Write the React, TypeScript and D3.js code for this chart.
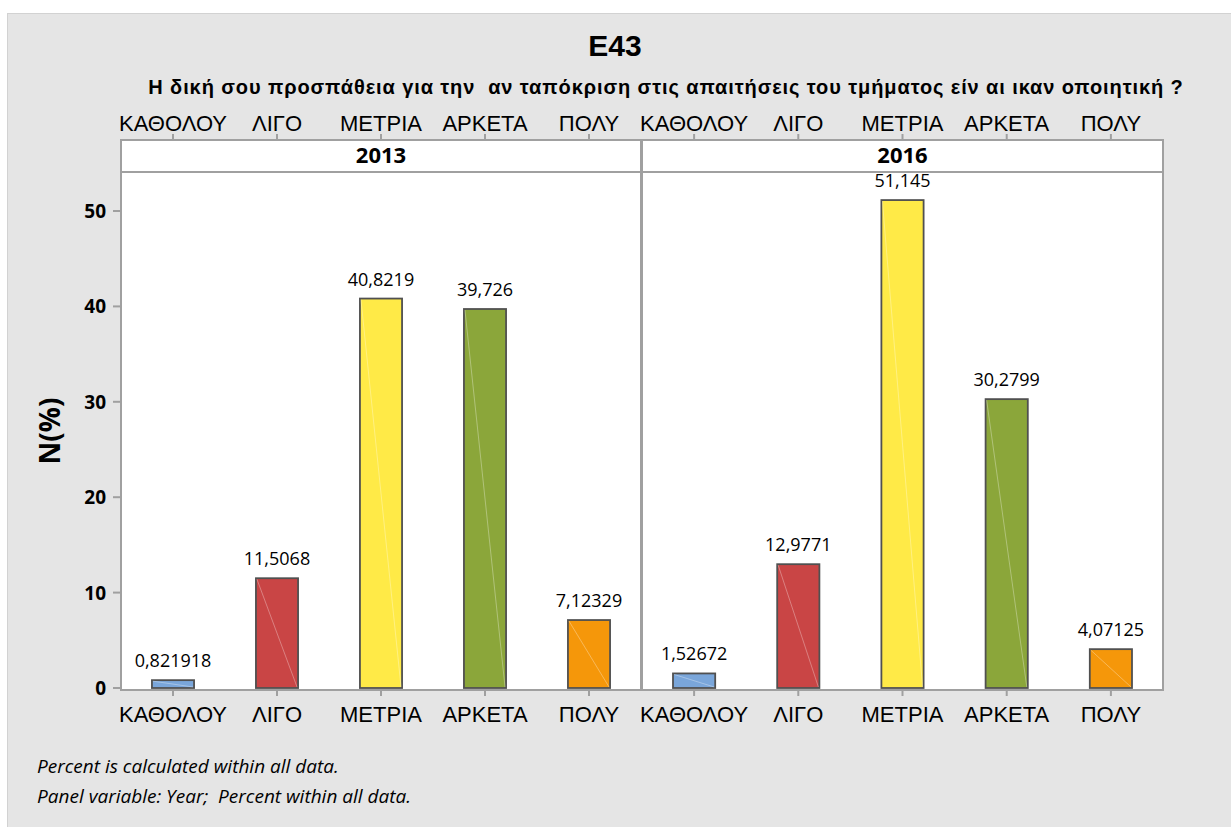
import React from 'react';
import * as d3 from 'd3';

// --- data ---
const categories = ['ΚΑΘΟΛΟΥ', 'ΛΙΓΟ', 'ΜΕΤΡΙΑ', 'ΑΡΚΕΤΑ', 'ΠΟΛΥ'];
const years = ['2013', '2016'];
const values2013 = [0.821918, 11.5068, 40.8219, 39.726, 7.12329];
const values2016 = [1.52672, 12.9771, 51.145, 30.2799, 4.07125];
const barColors = ['#7aa6da', '#c94545', '#ffea47', '#8ba63a', '#f5970a'];
const yTicks = [0, 10, 20, 30, 40, 50];
const title = 'E43';
const subtitle =
  'Η δική σου προσπάθεια για την  αν ταπόκριση στις απαιτήσεις του τμήματος είν αι ικαν οποιητική ?';
const yLabel = 'N(%)';
const footnotes = [
  'Percent is calculated within all data.',
  'Panel variable: Year;  Percent within all data.',
];

const W = 1231;
const H = 827;
const ARIAL = '"Liberation Sans", Arial, sans-serif';
const SEGOE = '"Open Sans", "Noto Sans", sans-serif';
const FRAME = '#a0a0a0';

const stripTop = 140;
const plotTop = 172;
const plotBottom = 690;
const panelX: [number, number][] = [
  [121, 641],
  [642, 1163],
];

const fmt = (v: number) => String(v).replace('.', ',');

const App: React.FC = () => {
  const y = d3.scaleLinear().domain([0, 50]).range([688, 211]);
  const seriesByYear = [values2013, values2016];

  return (
    <div style={{ position: 'absolute', left: 0, top: 0 }}>
      <svg width={W} height={H} style={{ display: 'block' }}>
        <rect x={0} y={0} width={W} height={H} fill="#fff" />
        <rect x={7.5} y={13.5} width={W} height={H} fill="#e5e5e5" stroke="#d2d2d2" />

        <text x={615} y={56} textAnchor="middle" fontFamily={ARIAL} fontWeight="bold" fontSize={30} fill="#000">
          {title}
        </text>
        <text
          x={666}
          y={94}
          textAnchor="middle"
          fontFamily={ARIAL}
          fontWeight="bold"
          fontSize={20}
          letterSpacing={0.9}
          fill="#000"
          style={{ whiteSpace: 'pre' }}
        >
          {subtitle}
        </text>

        {years.map((yr, pi) => {
          const [x0, x1] = panelX[pi];
          const band = d3
            .scaleBand<string>()
            .domain(categories)
            .range([x0, x1])
            .paddingInner(0.595)
            .paddingOuter(0.2975);
          const vals = seriesByYear[pi];
          return (
            <g key={yr}>
              {/* plot area */}
              <rect x={x0} y={plotTop} width={x1 - x0} height={plotBottom - plotTop} fill="#fff" stroke={FRAME} strokeWidth={2} />
              {/* strip */}
              <rect x={x0} y={stripTop} width={x1 - x0} height={plotTop - stripTop} fill="#fff" stroke={FRAME} strokeWidth={2} />
              <text
                x={(x0 + x1) / 2}
                y={163}
                textAnchor="middle"
                fontFamily={SEGOE}
                fontWeight="bold"
                fontSize={22}
                fill="#000"
              >
                {yr}
              </text>

              {categories.map((c, i) => {
                const bx = band(c)!;
                const bw = band.bandwidth();
                const cx = bx + bw / 2;
                const top = y(vals[i]);
                const bottom = y(0);
                return (
                  <g key={c}>
                    <rect x={bx} y={top} width={bw} height={bottom - top} fill={barColors[i]} stroke="#505050" strokeWidth={1.8} />
                    <line x1={bx + 1} y1={top + 1} x2={bx + bw - 1} y2={bottom - 1} stroke="#fff" strokeOpacity={0.4} strokeWidth={0.8} />
                    <text x={cx} y={top - 13} textAnchor="middle" fontFamily={SEGOE} fontSize={18} fill="#000">
                      {fmt(vals[i])}
                    </text>
                    {/* top axis */}
                    <line x1={cx} x2={cx} y1={134} y2={stripTop} stroke={FRAME} strokeWidth={2} />
                    <text x={cx} y={131} textAnchor="middle" fontFamily={ARIAL} fontSize={22} fill="#000">
                      {c}
                    </text>
                    {/* bottom axis */}
                    <line x1={cx} x2={cx} y1={plotBottom} y2={plotBottom + 6} stroke={FRAME} strokeWidth={2} />
                    <text x={cx} y={722} textAnchor="middle" fontFamily={ARIAL} fontSize={22} fill="#000">
                      {c}
                    </text>
                  </g>
                );
              })}
            </g>
          );
        })}

        {/* y axis */}
        {yTicks.map((t) => (
          <g key={t}>
            <line x1={113} x2={121} y1={y(t)} y2={y(t)} stroke={FRAME} strokeWidth={2} />
            <text x={106} y={y(t) + 7} textAnchor="end" fontFamily={SEGOE} fontWeight="bold" fontSize={19} fill="#000">
              {t}
            </text>
          </g>
        ))}
        <text
          transform={`translate(60, ${(plotTop + plotBottom) / 2}) rotate(-90)`}
          textAnchor="middle"
          fontFamily={SEGOE}
          fontWeight="bold"
          fontSize={28}
          fill="#000"
        >
          {yLabel}
        </text>

        {footnotes.map((f, i) => (
          <text key={i} x={37} y={773 + i * 30} fontFamily={SEGOE} fontStyle="italic" fontSize={19} fill="#000" style={{ whiteSpace: 'pre' }}>
            {f}
          </text>
        ))}
      </svg>
    </div>
  );
};

export default App;
